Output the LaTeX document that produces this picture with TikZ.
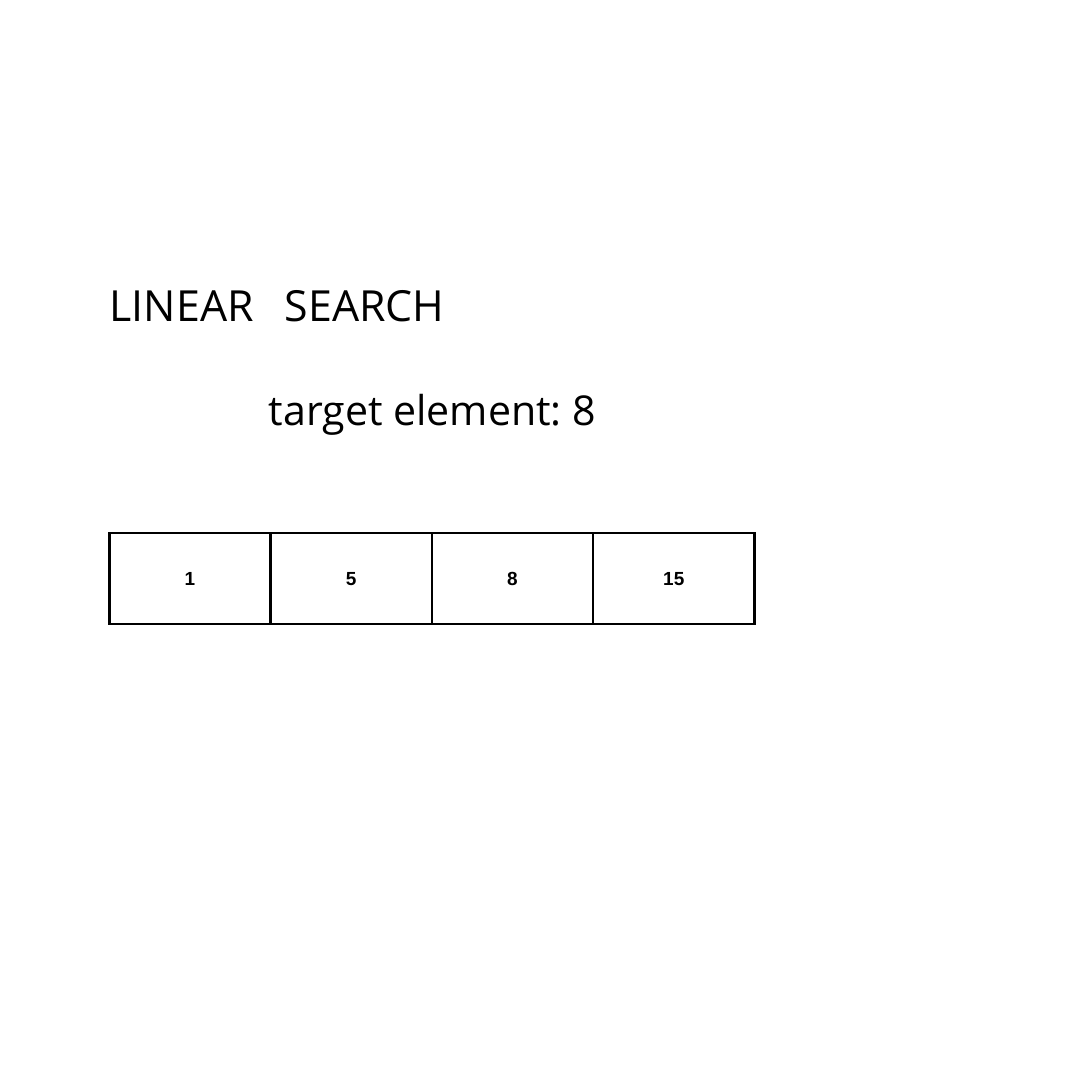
\documentclass[tikz,border=0pt]{standalone}
\usepackage{fontspec}
\setmainfont{Open Sans}
\newfontfamily\cellfont{Liberation Sans}
\usetikzlibrary{positioning}
\frenchspacing

\tikzset{
	cell/.style={draw, line width=0.7pt, minimum width=16.125mm, minimum height=9.05mm, inner sep=0pt, outer sep=0pt, text height=3.9pt, text depth=0pt, font=\cellfont\bfseries\fontsize{5.4}{6}\selectfont},
	heading/.style={anchor=base west, inner sep=0pt, font=\fontsize{12.2}{14}\selectfont}
}

\begin{document}
\begin{tikzpicture}
	\useasboundingbox (0,0) rectangle (10.8,10.8);

	\node[heading] (title) at (1.09,7.58) {LINEAR\hspace{3.1mm}SEARCH};
	\node[heading, font=\fontsize{11.7}{14}\selectfont] (target) at (2.68,6.54) {target element: 8};

	\node[cell] (c1) at (1.9,5.015) {1};
	\node[cell] (c2) at (3.5125,5.015) {5};
	\node[cell] (c3) at (5.125,5.015) {8};
	\node[cell] (c4) at (6.7375,5.015) {15};
\end{tikzpicture}
\end{document}
